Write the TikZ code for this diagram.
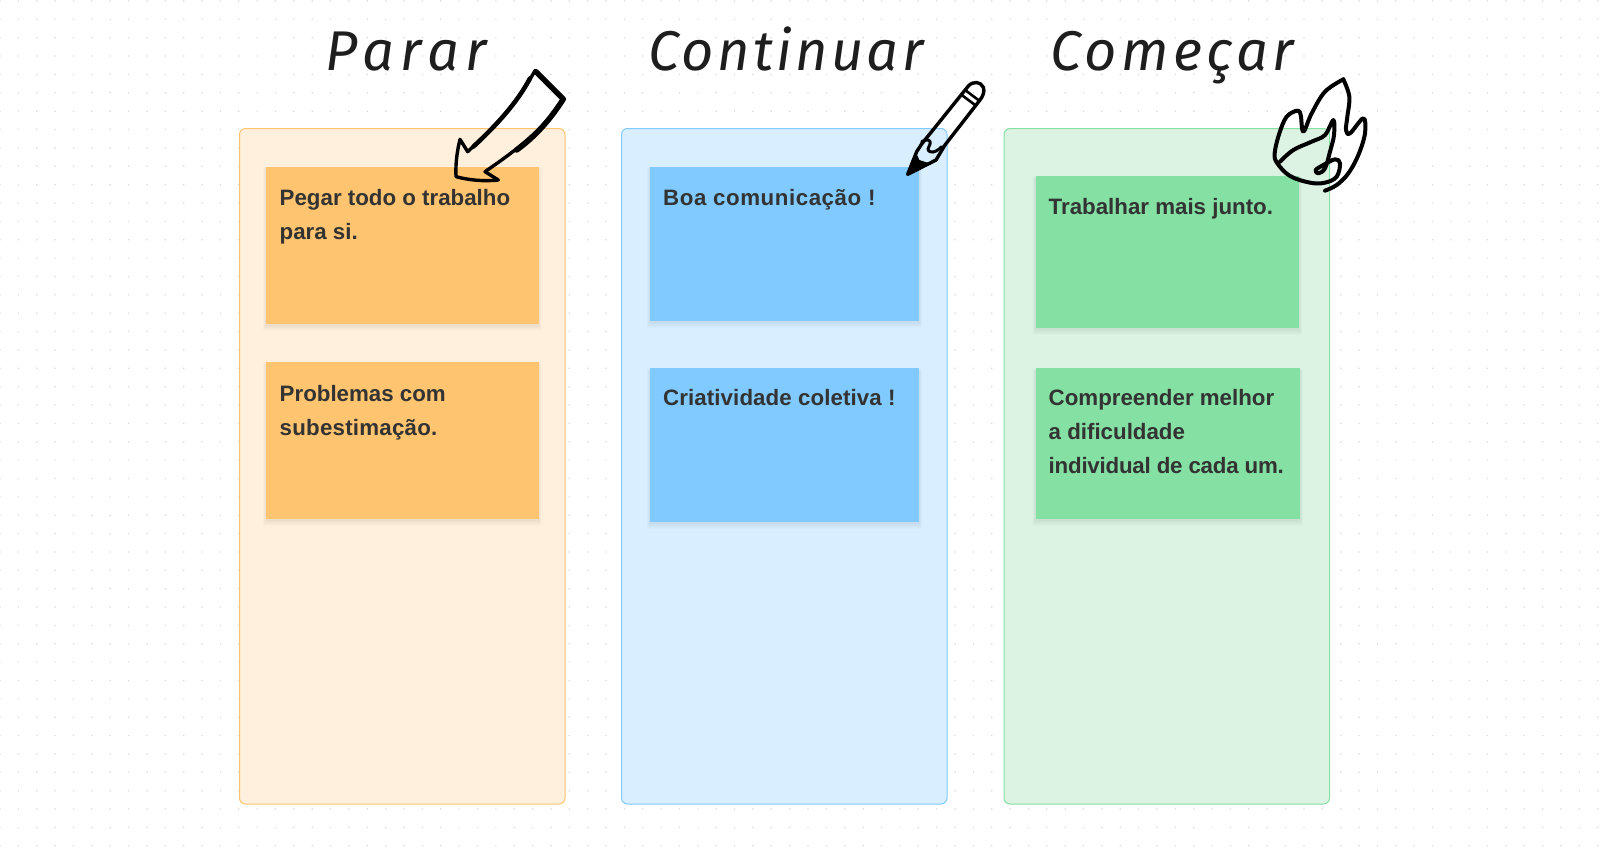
\documentclass[tikz,border=0pt]{standalone}
\usepackage{fontspec}
\setmainfont{Liberation Sans}
\newfontfamily\handfont[LetterSpace=8]{Fira Sans Italic}
\definecolor{orangeS}{HTML}{FFC470}
\definecolor{orangeC}{HTML}{FFF0DD}
\definecolor{blueS}{HTML}{80CAFF}
\definecolor{blueC}{HTML}{D9EFFF}
\definecolor{greenS}{HTML}{85E0A3}
\definecolor{greenC}{HTML}{DCF2E3}
\definecolor{inkT}{HTML}{333333}
\definecolor{inkH}{HTML}{1E1E1E}
\definecolor{dotc}{HTML}{D8D8D8}
\newcommand{\softshadow}[4]{%
  \foreach \s in {1,...,6}{
    \fill[black,opacity=0.012,rounded corners=1pt] (#1-\s/2,#2+3-\s/2) rectangle (#3+\s/2,#4+1+\s);
  }}
\tikzset{
  x=1pt,y=-1pt,
  column/.style={rounded corners=6pt,line width=1pt},
  stickytext/.style={anchor=north west,inner sep=0pt,align=left,text=inkT,font=\fontsize{22.3}{34}\selectfont\bfseries},
  hand/.style={anchor=base west,inner sep=0pt,text=inkH,font=\handfont\fontsize{56}{56}\selectfont},
  doodle/.style={draw=black,line width=3.4pt,line join=round,line cap=round},
  zoomed/.style={x=0.33333pt,y=-0.33333pt},
}
\begin{document}
\begin{tikzpicture}
\useasboundingbox (0,0) rectangle (1611,862);
\fill[white] (0,0) rectangle (1611,862);
\fill[dotc] \foreach \i in {0,...,87}{\foreach \j in {0,...,46}{ (\i*18.365-.6,\j*18.365+.4) rectangle ++(1.2,1.2)}};
% columns
\draw[column,draw=orangeS,fill=orangeC] (239.5,128.5) rectangle (565,804);
\draw[column,draw=blueS,fill=blueC] (621.5,128.5) rectangle (947,804);
\draw[column,draw=greenS,fill=greenC] (1004,128.5) rectangle (1329.5,804);
% stickies
\softshadow{266}{166.5}{538.5}{324}
\softshadow{266}{362}{538.5}{519}
\softshadow{650}{166.5}{919}{321}
\softshadow{650}{368}{919}{522}
\softshadow{1035.5}{175.5}{1299}{328}
\softshadow{1035.5}{368}{1300}{519}
\fill[orangeS] (266,166.5) rectangle (538.5,324);
\fill[orangeS] (266,362) rectangle (538.5,519);
\fill[blueS] (650,166.5) rectangle (919,321);
\fill[blueS] (650,368) rectangle (919,522);
\fill[greenS] (1035.5,175.5) rectangle (1299,328);
\fill[greenS] (1035.5,368) rectangle (1300,519);
% sticky text
\node[stickytext] (t1) at (279.5,189.5) {Pegar todo o trabalho\\para si.};
\node[stickytext] (t2) at (279.5,385.5) {Problemas com\\{\addfontfeature{LetterSpace=1}subestimação.}};
\node[stickytext] (t3) at (663,189.5) {\addfontfeature{LetterSpace=2.5}Boa comunicação !};
\node[stickytext] (t4) at (663,389.5) {\addfontfeature{LetterSpace=0.4}Criatividade coletiva !};
\node[stickytext] (t5) at (1048.5,198.5) {Trabalhar mais junto.};
\node[stickytext] (t6) at (1048.5,389.5) {Compreender melhor\\a dificuldade\\{\addfontfeature{LetterSpace=-1}individual de cada um.}};
% titles
\node[hand] (h1) at (325,70) {\addfontfeature{LetterSpace=12}Parar};
\node[hand] (h2) at (648,70) {\addfontfeature{LetterSpace=6}Continuar};
\node[hand] (h3) at (1050,70) {Começar};
% arrow
\begin{scope}[shift={(300,0)},zoomed]
\draw[doodle] (705,212) -- (790,297) .. controls (735,385) and (650,450) .. (555,515) -- (595,540)
  .. controls (550,545) and (505,540) .. (468,530) .. controls (466,490) and (472,450) .. (480,418)
  -- (503,455) .. controls (590,375) and (650,310) .. (705,212) -- cycle;
\draw[doodle,line width=5.5pt] (708,215) -- (790,297) .. controls (750,360) and (705,410) .. (650,450);
\draw[doodle,line width=4.5pt] (520,440) .. controls (590,375) and (650,310) .. (690,235);
\end{scope}
% pencil
\begin{scope}[shift={(630,0)},zoomed]
\draw[doodle,line width=3.4pt] (875,432) -- (1015,258) .. controls (1030,242) and (1052,245) .. (1060,262)
  .. controls (1065,275) and (1058,290) .. (1050,300) -- (945,435) -- (918,480) -- (833,523) -- (860,455) -- cycle;
\draw[doodle,line width=2.6pt] (1005,270) -- (1045,300) (995,285) -- (1035,315);
\draw[doodle,line width=3pt] (875,425) .. controls (890,415) and (905,420) .. (900,432) .. controls (895,445) and (890,450) .. (900,455) .. controls (912,460) and (925,450) .. (935,440);
\fill[black] (833,523) -- (860,462) -- (868,480) -- (905,492) -- cycle;
\end{scope}
% flame
\begin{scope}[shift={(1270,70)},zoomed]
\draw[doodle,line width=4pt] plot[smooth,tension=0.6] coordinates {(220,28) (165,65) (125,130) (100,185) (92,135) (82,122) (50,140) (28,190) (14,250) (22,280) (60,318) (120,338) (165,338) (200,320) (210,280) (195,268) (160,285) (137,300) (145,310) (165,295) (180,245) (192,195) (190,150) (165,195) (125,215) (70,240) (30,275)};
\draw[doodle,line width=4pt] plot[smooth,tension=0.6] coordinates {(220,28) (238,80) (232,140) (228,180) (240,190) (280,145) (285,190) (265,255) (235,310) (200,345) (165,362)};
\end{scope}
\end{tikzpicture}
\end{document}
